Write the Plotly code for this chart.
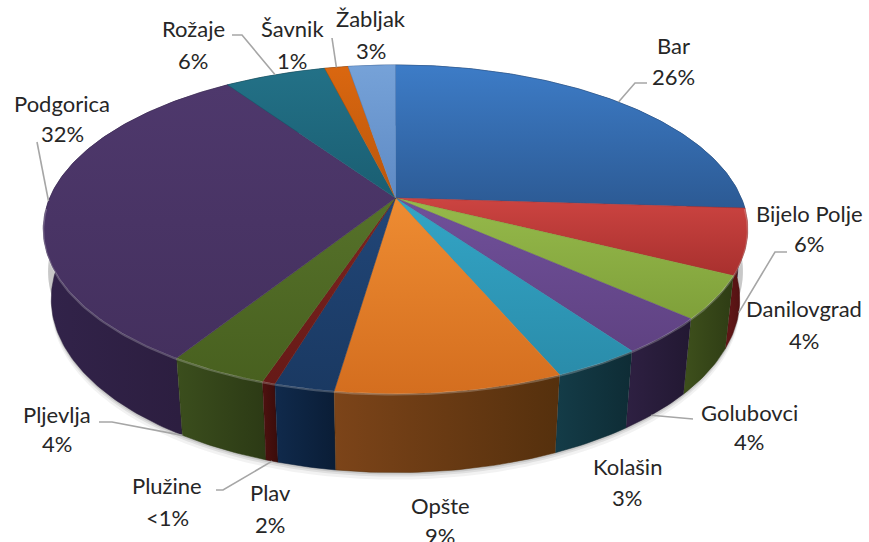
import numpy as np
import plotly.graph_objects as go

# ---------------- data ----------------
labels = ["Bar", "Bijelo Polje", "Danilovgrad", "Golubovci", "Kolašin", "Opšte",
          "Plav", "Plužine", "Pljevlja", "Podgorica", "Rožaje", "Šavnik", "Žabljak"]
values = [26.0, 6.4, 4.2, 3.6, 3.4, 8.7, 2.3, 0.5, 3.8, 31.6, 5.6, 1.3, 2.6]

top_light = ["#3D7CC7", "#CC4441", "#96BA4B", "#70509A", "#33A5C6", "#EE8C32", "#214678",
             "#7E2420", "#56722A", "#4E386C", "#237187", "#DA6710", "#76A2D8"]
top_dark = ["#2C5A94", "#A8302E", "#7FA03A", "#5F4282", "#2A8CAA", "#D46E1F", "#1A3962",
            "#661A17", "#48601F", "#44305E", "#1A5E72", "#BA560B", "#5E8AC4"]
side_light = ["#234A7A", "#641818", "#3E501C", "#2E2042", "#143C48", "#7C4419", "#102A4C",
              "#4E1210", "#3B4E1D", "#32234A", "#12414E", "#6E3306", "#3A5A84"]
side_dark = ["#1A3960", "#4A0F0F", "#2E3C14", "#221832", "#0E2C35", "#55300D", "#0A1D36",
             "#3A0C0A", "#2C3A15", "#2A1C3C", "#0C303A", "#522504", "#2A4466"]

# label line centres (layout): (x, name y, percent y)
label_pos = {
    "Bar": (673, 45, 76), "Bijelo Polje": (809, 213, 243), "Danilovgrad": (804, 308, 340),
    "Golubovci": (749, 412, 441), "Kolašin": (627, 466, 497), "Opšte": (440, 505, 535),
    "Plav": (270, 492, 524), "Plužine": (167, 485, 517), "Pljevlja": (57, 414, 443),
    "Podgorica": (62, 103, 133), "Rožaje": (193, 28, 60), "Šavnik": (292, 28, 60),
    "Žabljak": (371, 18, 50),
}
# leader specs: (fraction within slice, rim level, extra points)
leaders = {
    "Bar": (0.5, "top", [(635, 83), (647, 83)]),
    "Bijelo Polje": (0.5, "bottom", [(775, 252), (787, 252)]),
    "Golubovci": (0.6, "bottom", [(693, 419)]),
    "Plužine": (0.5, "bottom", [(223, 490), (216, 490)]),
    "Pljevlja": (1.0, "bottom", [(112, 422), (99, 422)]),
    "Podgorica": (0.5, "top", [(37, 142)]),
    "Rožaje": (0.5, "top", [(242, 35), (232, 35)]),
    "Šavnik": (0.5, "top", [(332, 38)]),
}

# ---------------- projection (pseudo 3D pie) ----------------
CX, CY = 395.5, 198.0
F, D = 1615.0, 4.67
S, C = 0.458, 0.889
H = 0.228


def project(theta, z):
    X = np.sin(theta)
    Y = -np.cos(theta)
    depth = D - Y * C - z * S
    px = CX + X / depth * F
    py = CY - (-Y * S + z * C) / depth * F
    return px, py


total = float(sum(values))
fracs = [v / total for v in values]
starts = np.cumsum([0] + fracs[:-1]) * 2 * np.pi
ends = np.cumsum(fracs) * 2 * np.pi

fig = go.Figure()

# soft shadow below the pie
tt = np.linspace(np.pi / 2, 3 * np.pi / 2, 200)
for off, op in [(7, 0.05), (4, 0.08), (2, 0.10)]:
    bx, by = project(tt, -H)
    tx, ty = project(tt[::-1], -H * 0.6)
    fig.add_trace(go.Scatter(
        x=np.concatenate([bx, tx]), y=np.concatenate([by + off, ty]),
        fill="toself", mode="none", fillcolor=f"rgba(0,0,0,{op})",
        hoverinfo="skip", showlegend=False))

# side walls (painter's order: back first)
order = sorted(range(len(values)), key=lambda i: -np.cos((starts[i] + ends[i]) / 2))
for i in order:
    n = max(8, int((ends[i] - starts[i]) / (2 * np.pi) * 400))
    th = np.linspace(starts[i], ends[i], n)
    tx, ty = project(th, 0.0)
    bx, by = project(th[::-1], -H)
    xs = np.concatenate([tx, bx])
    ys = np.concatenate([ty, by])
    fig.add_trace(go.Scatter(
        x=xs, y=ys, fill="toself", mode="lines",
        line=dict(width=0.5, color=side_dark[i]),
        fillgradient=dict(type="horizontal",
                          colorscale=[[0, side_light[i]], [1, side_dark[i]]],
                          start=float(xs.min()), stop=float(xs.max())),
        hoverinfo="skip", showlegend=False))

# top faces
for i in range(len(values)):
    n = max(8, int((ends[i] - starts[i]) / (2 * np.pi) * 400))
    th = np.linspace(starts[i], ends[i], n)
    ax, ay = project(th, 0.0)
    xs = np.concatenate([[CX], ax, [CX]])
    ys = np.concatenate([[CY], ay, [CY]])
    fig.add_trace(go.Scatter(
        x=xs, y=ys, fill="toself", mode="lines",
        line=dict(width=0.5, color=top_dark[i]),
        fillgradient=dict(type="vertical",
                          colorscale=[[0, top_light[i]], [1, top_dark[i]]],
                          start=float(ys.min()), stop=float(ys.max())),
        hoverinfo="skip", showlegend=False))

# rim highlight along the front edge
th = np.linspace(np.pi * 0.52, np.pi * 1.48, 200)
hx, hy = project(th, 0.0)
fig.add_trace(go.Scatter(x=hx, y=hy + 1, mode="lines",
                         line=dict(color="rgba(255,255,255,0.22)", width=2),
                         hoverinfo="skip", showlegend=False))

# leader lines
for name, (fr, lvl, pts) in leaders.items():
    i = labels.index(name)
    th = starts[i] + fr * (ends[i] - starts[i])
    axp, ayp = project(th, 0.0 if lvl == "top" else -H)
    xs = [float(axp)] + [p[0] for p in pts]
    ys = [float(ayp)] + [p[1] for p in pts]
    fig.add_trace(go.Scatter(x=xs, y=ys, mode="lines",
                             line=dict(color="#A6A6A6", width=1.6),
                             hoverinfo="skip", showlegend=False))

# labels
font = dict(family="Lato", size=22, color="#262626")
for i, name in enumerate(labels):
    pct = fracs[i] * 100
    ptxt = "<1%" if pct < 1 else f"{round(pct)}%"
    x, yn, yp = label_pos[name]
    fig.add_annotation(x=x, y=yn, xref="x", yref="y", text=name, showarrow=False,
                       xanchor="center", yanchor="middle", font=font)
    fig.add_annotation(x=x, y=yp, xref="x", yref="y", text=ptxt, showarrow=False,
                       xanchor="center", yanchor="middle", font=font)

fig.update_layout(
    width=869, height=542,
    margin=dict(l=0, r=0, t=0, b=0),
    paper_bgcolor="white", plot_bgcolor="white",
    xaxis=dict(range=[0, 869], visible=False, fixedrange=True),
    yaxis=dict(range=[542, 0], visible=False, fixedrange=True),
    showlegend=False,
)

fig.write_html("out.html",
               config={"displayModeBar": False, "staticPlot": True},
               post_script="document.body.style.margin='0';document.body.style.overflow='hidden';")
